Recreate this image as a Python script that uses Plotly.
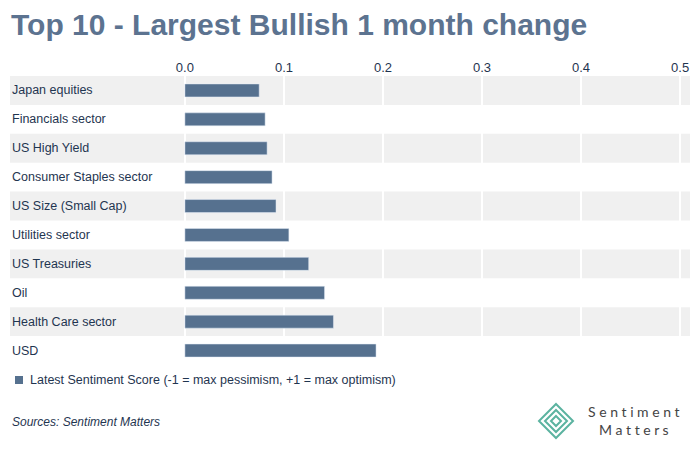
import plotly.graph_objects as go

categories = ["Japan equities", "Financials sector", "US High Yield", "Consumer Staples sector",
              "US Size (Small Cap)", "Utilities sector", "US Treasuries", "Oil",
              "Health Care sector", "USD"]
values = [0.075, 0.081, 0.083, 0.088, 0.092, 0.105, 0.125, 0.141, 0.150, 0.193]
tick_vals = [0.0, 0.1, 0.2, 0.3, 0.4, 0.5]
tick_text = ["0.0", "0.1", "0.2", "0.3", "0.4", "0.5"]

C = "#56718f"
O = 8  # page body offset
W, H = 700, 449
L, R, T, B = 175 - O, 10 + O, 76 - O, 84 + O
pw = W - L - R
ph = H - T - B


def px(x):
    return (x - O - L) / pw


def py(y):
    return (H - B - (y - O)) / ph


fig = go.Figure()
fig.add_trace(go.Bar(x=values, y=categories, orientation="h", marker_color=C, width=0.45,
                     showlegend=False))

shapes = []
for i in range(len(categories)):
    if i % 2 == 0:
        shapes.append(dict(type="rect", xref="paper", yref="y", x0=px(10), x1=1,
                           y0=i - 0.5, y1=i + 0.5, fillcolor="#f0f0f0", line_width=0, layer="below"))

ann = []
for c in categories:
    ann.append(dict(xref="paper", yref="y", x=px(10), y=c, text=c, showarrow=False,
                    xanchor="left", font=dict(size=12.5, color="#1f3550", family="Liberation Sans")))

shapes.append(dict(type="rect", xref="paper", yref="paper", x0=px(15), x1=px(23),
                   y0=py(384), y1=py(376), fillcolor=C, line_width=0))

fig.update_layout(
    width=W, height=H, margin=dict(l=L, r=R, t=T, b=B),
    paper_bgcolor="white", plot_bgcolor="rgba(0,0,0,0)",
    font=dict(family="Liberation Sans", color="#1f3550"),
    xaxis=dict(range=[-0.01, 0.51], side="top", tickvals=tick_vals, ticktext=tick_text,
               showgrid=True, gridcolor="white", gridwidth=2, zeroline=False,
               tickfont=dict(size=13, color="#1f3550"), ticks=""),
    yaxis=dict(autorange="reversed", showticklabels=False, showgrid=False, zeroline=False),
    shapes=shapes,
    annotations=ann + [
        dict(xref="paper", yref="paper", x=px(9), y=py(25),
             text="<b>Top 10 - Largest Bullish 1 month change</b>", showarrow=False,
             xanchor="left", yanchor="middle", font=dict(size=30, color="#5c7390")),
        dict(xref="paper", yref="paper", x=px(28), y=py(380),
             text="Latest Sentiment Score (-1 = max pessimism, +1 = max optimism)", showarrow=False,
             xanchor="left", yanchor="middle", font=dict(size=12.5, color="#1f3550")),
        dict(xref="paper", yref="paper", x=px(10), y=py(422),
             text="<i>Sources: Sentiment Matters</i>", showarrow=False,
             xanchor="left", yanchor="middle", font=dict(size=12, color="#1f3550")),
        dict(xref="paper", yref="paper", x=px(634), y=py(420),
             text="S e n t i m e n t<br>M a t t e r s", showarrow=False, align="center",
             xanchor="center", yanchor="middle", font=dict(size=14, color="#444", family="Lato")),
    ],
)

cx, cy = 556, 421
for s in [17, 11, 5]:
    pts = [(cx, cy - s), (cx + s, cy), (cx, cy + s), (cx - s, cy)]
    path = "M " + " L ".join(f"{px(x)} {py(y)}" for x, y in pts) + " Z"
    fig.add_shape(type="path", xref="paper", yref="paper", path=path,
                  line=dict(color="#5bb3a0", width=2), fillcolor="rgba(0,0,0,0)")

fig.write_html("out.html")
